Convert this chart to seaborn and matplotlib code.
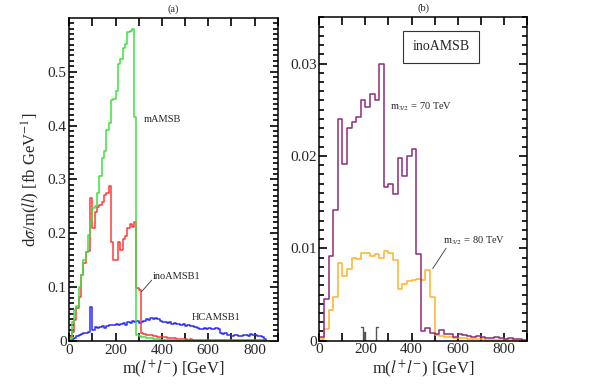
import numpy as np
import pandas as pd
import matplotlib
matplotlib.use("Agg")
import matplotlib.pyplot as plt
import seaborn as sns
from matplotlib.ticker import MultipleLocator, FuncFormatter

# panel (a): 10 GeV bins, 0-900 GeV
edges_a = list(range(0, 910, 10))
mamsb = [0.003, 0.036, 0.057, 0.065, 0.100, 0.122, 0.150, 0.166, 0.197, 0.224,
         0.246, 0.250, 0.274, 0.306, 0.339, 0.352, 0.391, 0.405, 0.448, 0.450,
         0.464, 0.514, 0.524, 0.543, 0.551, 0.574, 0.576, 0.580, 0.416, 0.012,
         0.009, 0.008, 0.007, 0.006, 0.005, 0.005, 0.004, 0.003, 0.003, 0.002,
         0.002, 0.002, 0.002, 0.001, 0.001, 0.001, 0.001, 0.001, 0.001, 0.001] + [0.0] * 40
inoamsb1 = [0.008, 0.017, 0.039, 0.061, 0.082, 0.122, 0.144, 0.166, 0.168, 0.265,
            0.209, 0.240, 0.249, 0.252, 0.258, 0.271, 0.274, 0.288, 0.184, 0.150,
            0.150, 0.184, 0.169, 0.190, 0.194, 0.209, 0.218, 0.211, 0.221, 0.098,
            0.095, 0.014, 0.013, 0.012, 0.011, 0.011, 0.010, 0.009, 0.008, 0.008,
            0.007, 0.007, 0.006, 0.006, 0.005, 0.005, 0.004, 0.004, 0.003, 0.003,
            0.003, 0.002, 0.003, 0.002, 0.002, 0.002, 0.002, 0.001, 0.002, 0.001,
            0.001, 0.001, 0.001, 0.001, 0.001, 0.001, 0.001, 0.001, 0.001, 0.001,
            0.001, 0.001, 0.001, 0.001, 0.001, 0.001, 0.001, 0.001, 0.001, 0.001,
            0.001, 0.001, 0.001, 0.001, 0.0, 0.0, 0.0, 0.0, 0.0, 0.0]
hcamsb1 = [0.002, 0.003, 0.006, 0.009, 0.011, 0.013, 0.014, 0.015, 0.016, 0.064,
           0.020, 0.026, 0.024, 0.026, 0.027, 0.025, 0.027, 0.030, 0.029, 0.030,
           0.032, 0.029, 0.031, 0.034, 0.030, 0.036, 0.034, 0.038, 0.036, 0.038,
           0.033, 0.036, 0.037, 0.040, 0.039, 0.042, 0.040, 0.042, 0.040, 0.037,
           0.036, 0.035, 0.033, 0.035, 0.032, 0.033, 0.031, 0.032, 0.030, 0.031,
           0.028, 0.029, 0.027, 0.028, 0.026, 0.024, 0.022, 0.023, 0.024, 0.023,
           0.024, 0.022, 0.023, 0.024, 0.022, 0.014, 0.013, 0.014, 0.012, 0.011,
           0.010, 0.011, 0.012, 0.010, 0.009, 0.011, 0.012, 0.010, 0.013, 0.012,
           0.011, 0.010, 0.009, 0.008, 0.004, 0.0, 0.0, 0.0, 0.0, 0.0]

# panel (b): 20 GeV bins, 0-900 GeV
edges_b = list(range(0, 920, 20))
m70 = [0.0004, 0.0045, 0.0092, 0.0141, 0.0240, 0.0191, 0.0230, 0.0237, 0.0242, 0.0261,
       0.0253, 0.0267, 0.0260, 0.0300, 0.0166, 0.0170, 0.0159, 0.0198, 0.0178, 0.0200,
       0.0207, 0.0094, 0.0010, 0.0014, 0.0008, 0.0007, 0.0012, 0.0007, 0.0007, 0.0004,
       0.0007, 0.0006, 0.0005, 0.0004, 0.0005, 0.0004, 0.0003, 0.0003, 0.0004, 0.0003,
       0.0002, 0.0003, 0.0002, 0.0002, 0.0001]
m80 = [0.0002, 0.0013, 0.0033, 0.0047, 0.0084, 0.0070, 0.0078, 0.0089, 0.0088, 0.0095,
       0.0095, 0.0092, 0.0094, 0.0089, 0.0097, 0.0095, 0.0087, 0.0056, 0.0061, 0.0065,
       0.0066, 0.0067, 0.0066, 0.0077, 0.0047, 0.0006, 0.0005, 0.0004, 0.0004, 0.0003,
       0.0003, 0.0003, 0.0002, 0.0002, 0.0002, 0.0002, 0.0001, 0.0001, 0.0001, 0.0001,
       0.0001, 0.0001, 0.0, 0.0, 0.0]
grey_edges = [182, 188, 196, 199, 247, 256]
grey_vals = [0.0015, 0.0, 0.0009, 0.0, 0.0015]

sns.set_style("ticks")
plt.rcParams['font.family'] = ['Liberation Serif', 'DejaVu Serif']
plt.rcParams['mathtext.fontset'] = 'stix'
plt.rcParams['xtick.direction'] = 'in'
plt.rcParams['ytick.direction'] = 'in'


def step_hist(ax, edges, vals, color, lw=1.1):
    centers = [(a + b) / 2 for a, b in zip(edges[:-1], edges[1:])]
    df = pd.DataFrame({'m': centers, 'w': vals})
    sns.histplot(data=df, x='m', weights='w', bins=list(edges), element='step',
                 fill=False, color=color, linewidth=lw, ax=ax)


fig = plt.figure(figsize=(5.98, 3.88), dpi=100)
ax1 = fig.add_axes([0.1159, 0.1211, 0.3485, 0.8317])
ax2 = fig.add_axes([0.534, 0.1219, 0.3468, 0.8335])

step_hist(ax1, edges_a, hcamsb1, '#2b2bff')
step_hist(ax1, edges_a, inoamsb1, '#ff3a3a')
step_hist(ax1, edges_a, mamsb, '#3ee03e')

step_hist(ax2, grey_edges, grey_vals, '#555555', lw=1.0)
step_hist(ax2, edges_b, m80, '#ffb22a')
step_hist(ax2, edges_b, m70, '#8e2c78')

fmt = FuncFormatter(lambda v, p: '0' if abs(v) < 1e-12 else '%g' % v)
for ax in (ax1, ax2):
    ax.set_xlim(0, 900)
    ax.xaxis.set_major_locator(MultipleLocator(200))
    ax.xaxis.set_minor_locator(MultipleLocator(100))
    ax.yaxis.set_major_formatter(fmt)
    ax.tick_params(which='both', direction='in', color='black',
                   bottom=True, left=True, top=True, right=True,
                   labelsize=11, width=1.2)
    ax.tick_params(which='major', length=6, pad=2)
    ax.tick_params(which='minor', length=3.5)
    ax.tick_params(axis='x', which='minor', length=6)
    for s in ax.spines.values():
        s.set_linewidth(1.1)
        s.set_color('black')
    ax.set_xlabel(r'm($l^{+}l^{-}$) [GeV]', fontsize=12, labelpad=1)
    ax.set_ylabel('')

ax1.set_ylim(0, 0.599)
ax1.yaxis.set_major_locator(MultipleLocator(0.1))
ax1.yaxis.set_minor_locator(MultipleLocator(0.01))
ax1.set_ylabel(r'd$\sigma$/m($ll$) [fb GeV$^{-1}$]', fontsize=12, labelpad=4)
ax1.set_title('(a)', fontsize=7.5, pad=5)

ax2.set_ylim(0, 0.035)
ax2.yaxis.set_major_locator(MultipleLocator(0.01))
ax2.yaxis.set_minor_locator(MultipleLocator(0.001))
ax2.set_title('(b)', fontsize=7.5, pad=5)

ax1.text(320, 0.412, 'mAMSB', fontsize=7.5, va='center')
ax1.text(360, 0.119, 'inoAMSB1', fontsize=7.5, va='center')
ax1.plot([312, 356], [0.0915, 0.113], color='#333333', lw=0.6)
ax1.text(528, 0.043, 'HCAMSB1', fontsize=7.5, va='center')

ax2.text(528, 0.0318, 'inoAMSB', fontsize=10, ha='center', va='center',
         bbox=dict(boxstyle='square,pad=0.7', facecolor='white', edgecolor='#333333', lw=0.8))
ax2.text(305, 0.0253, r'm$_{3/2}$ = 70 TeV', fontsize=7.5, va='center')
ax2.text(535, 0.0108, r'm$_{3/2}$ = 80 TeV', fontsize=7.5, va='center')
ax2.plot([492, 550], [0.0078, 0.0100], color='#333333', lw=0.6)

fig.savefig('out.png', dpi=100)
